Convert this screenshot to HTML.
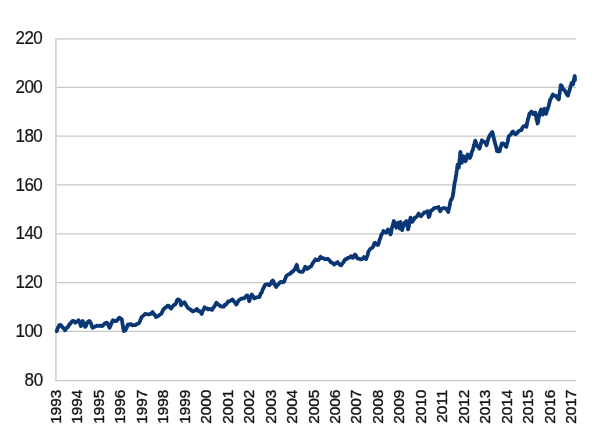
<!DOCTYPE html>
<html><head><meta charset="utf-8"><title>Chart</title>
<style>html,body{margin:0;padding:0;background:#fff}svg{display:block}</style></head>
<body>
<svg width="600" height="441" viewBox="0 0 600 441">
<rect width="600" height="441" fill="#fff"/>
<g stroke="#c8c8c8" stroke-width="1.3" fill="none">
<line x1="55.00" y1="87.30" x2="576.0" y2="87.30"/>
<line x1="55.00" y1="136.12" x2="576.0" y2="136.12"/>
<line x1="55.00" y1="184.95" x2="576.0" y2="184.95"/>
<line x1="55.00" y1="233.78" x2="576.0" y2="233.78"/>
<line x1="55.00" y1="282.60" x2="576.0" y2="282.60"/>
<line x1="55.00" y1="331.43" x2="576.0" y2="331.43"/>
</g>
<polyline points="576.0,38.9 55.9,38.9 55.9,380.7" stroke="#d6d6d6" stroke-width="1.9" stroke-linejoin="round" fill="none"/>
<line x1="55.3" y1="380.7" x2="576.0" y2="380.7" stroke="#c8c8c8" stroke-width="1.3"/>
<g font-family="'Liberation Sans', sans-serif" font-size="17" fill="#151515" stroke="#151515" stroke-width="0.2" text-anchor="end">
<text transform="translate(42.1,44.15) scale(1,1.08)" letter-spacing="-0.6">220</text>
<text transform="translate(42.1,92.96) scale(1,1.08)" letter-spacing="-0.6">200</text>
<text transform="translate(42.1,141.78) scale(1,1.08)" letter-spacing="-0.6">180</text>
<text transform="translate(42.1,190.59) scale(1,1.08)" letter-spacing="-0.6">160</text>
<text transform="translate(42.1,239.41) scale(1,1.08)" letter-spacing="-0.6">140</text>
<text transform="translate(42.1,288.22) scale(1,1.08)" letter-spacing="-0.6">120</text>
<text transform="translate(42.1,337.04) scale(1,1.08)" letter-spacing="-0.6">100</text>
<text transform="translate(43.3,385.85) scale(1,1.08)">80</text>
</g>
<g font-family="'Liberation Sans', sans-serif" font-size="15.4" fill="#151515" stroke="#151515" stroke-width="0.4" text-anchor="end">
<text transform="translate(60.90,389.6) rotate(-90)">1993</text>
<text transform="translate(82.37,389.6) rotate(-90)">1994</text>
<text transform="translate(103.84,389.6) rotate(-90)">1995</text>
<text transform="translate(125.31,389.6) rotate(-90)">1996</text>
<text transform="translate(146.78,389.6) rotate(-90)">1997</text>
<text transform="translate(168.25,389.6) rotate(-90)">1998</text>
<text transform="translate(189.72,389.6) rotate(-90)">1999</text>
<text transform="translate(211.20,389.6) rotate(-90)">2000</text>
<text transform="translate(232.67,389.6) rotate(-90)">2001</text>
<text transform="translate(254.14,389.6) rotate(-90)">2002</text>
<text transform="translate(275.61,389.6) rotate(-90)">2003</text>
<text transform="translate(297.08,389.6) rotate(-90)">2004</text>
<text transform="translate(318.55,389.6) rotate(-90)">2005</text>
<text transform="translate(340.02,389.6) rotate(-90)">2006</text>
<text transform="translate(361.49,389.6) rotate(-90)">2007</text>
<text transform="translate(382.96,389.6) rotate(-90)">2008</text>
<text transform="translate(404.43,389.6) rotate(-90)">2009</text>
<text transform="translate(425.90,389.6) rotate(-90)">2010</text>
<text transform="translate(447.38,389.6) rotate(-90)">2011</text>
<text transform="translate(468.85,389.6) rotate(-90)">2012</text>
<text transform="translate(490.32,389.6) rotate(-90)">2013</text>
<text transform="translate(511.79,389.6) rotate(-90)">2014</text>
<text transform="translate(533.26,389.6) rotate(-90)">2015</text>
<text transform="translate(554.73,389.6) rotate(-90)">2016</text>
<text transform="translate(576.20,389.6) rotate(-90)">2017</text>
</g>
<polyline points="56.7,331.1 57.3,329.4 58.0,327.6 58.6,326.9 59.2,325.2 60.5,325.0 61.7,326.1 62.8,327.6 64.0,328.7 65.1,330.3 66.2,328.2 67.4,327.5 68.5,326.1 69.5,324.1 70.6,323.5 71.7,321.6 72.7,321.0 74.0,321.2 75.2,322.7 76.3,321.8 77.4,321.5 78.5,320.2 79.1,321.1 79.8,322.7 80.4,324.8 81.0,326.1 81.6,325.1 82.1,322.8 82.7,321.0 83.3,322.3 84.0,324.7 84.6,324.7 85.2,326.9 86.1,325.8 86.9,323.3 87.8,321.9 89.4,321.0 90.1,321.8 90.8,323.1 91.4,324.8 92.1,326.9 92.8,327.8 94.2,326.6 95.6,326.5 97.0,325.6 98.7,326.0 100.3,325.7 102.0,326.1 103.2,325.3 104.5,323.7 105.8,322.9 107.0,322.7 107.7,323.5 108.3,325.5 108.9,326.4 109.6,327.8 110.3,326.0 110.9,324.9 111.6,323.2 112.2,321.4 112.9,320.2 114.6,321.0 116.3,321.0 117.4,320.2 118.5,318.4 119.6,317.7 120.7,318.7 121.8,319.4 122.1,321.1 122.4,323.3 122.7,324.8 122.9,325.8 123.2,328.5 123.5,328.9 123.8,331.1 125.5,330.3 126.1,328.7 126.8,327.7 127.4,325.4 128.0,324.4 129.5,324.6 130.9,324.1 132.4,325.3 133.9,325.2 135.3,325.1 136.7,324.2 138.1,323.6 139.1,322.9 140.0,321.0 140.6,319.4 141.1,318.6 141.7,317.0 142.8,316.1 143.9,315.1 145.0,314.0 146.7,314.2 148.4,314.5 149.8,314.2 151.2,313.5 152.6,312.0 153.4,313.2 154.3,314.7 155.2,315.1 156.0,317.0 157.4,316.5 158.7,315.6 160.1,314.5 161.2,313.8 162.2,312.0 163.2,309.8 164.3,308.6 165.4,307.4 166.6,306.9 167.7,305.6 168.8,305.9 169.9,307.5 171.0,308.6 172.1,307.1 173.1,305.9 174.1,304.8 175.2,304.4 176.1,303.1 176.9,300.5 177.8,299.4 179.1,299.8 180.3,301.0 180.6,302.2 180.8,304.4 181.1,305.2 182.2,303.6 183.4,303.1 184.5,302.2 185.3,303.6 186.2,305.3 187.0,306.5 187.9,307.9 188.7,308.6 190.1,309.3 191.5,310.5 192.9,311.6 194.3,310.5 195.6,310.4 197.0,308.9 198.2,310.9 199.3,310.9 200.5,312.2 201.7,314.0 202.4,311.9 203.1,310.2 203.9,308.9 204.6,307.2 205.7,308.1 206.9,308.3 208.0,309.4 209.4,308.8 210.7,309.5 212.1,309.8 212.9,308.2 213.8,307.1 214.6,306.2 215.5,304.4 216.3,302.7 217.7,303.9 219.1,305.1 220.5,306.1 222.2,306.6 223.9,306.6 224.9,304.7 226.0,304.6 227.1,303.2 228.1,301.5 229.5,301.4 230.9,300.5 232.3,299.4 233.3,300.5 234.2,301.8 235.2,302.6 236.2,304.5 237.1,303.5 238.1,301.3 239.1,300.1 240.0,299.5 241.4,298.7 242.9,298.3 244.3,298.4 245.3,297.2 246.3,295.7 247.3,295.4 247.8,296.1 248.3,297.8 248.8,299.2 249.3,301.2 249.9,299.3 250.6,297.1 251.2,296.7 251.8,294.5 252.6,296.0 253.5,296.6 254.3,298.4 256.0,297.6 257.7,297.2 259.4,297.0 260.1,295.3 260.7,293.4 261.4,293.0 262.0,291.7 262.7,289.5 263.4,288.2 264.1,287.0 264.9,285.1 265.6,284.5 266.9,284.2 268.1,284.8 269.4,285.3 270.2,283.8 271.1,283.4 271.9,281.3 272.8,280.6 273.6,281.5 274.5,284.5 275.3,285.4 276.1,287.0 277.2,285.1 278.4,284.3 279.5,282.8 280.9,281.8 282.3,282.3 283.7,282.0 284.3,281.2 284.9,279.6 285.6,277.9 286.2,276.1 287.6,274.9 289.0,274.2 290.4,273.6 291.4,272.1 292.5,271.9 293.6,270.5 294.6,269.4 295.3,268.3 296.1,266.1 296.8,264.8 297.2,266.2 297.6,268.9 298.0,270.2 299.5,271.5 301.0,271.9 302.5,271.9 303.2,271.1 303.9,269.8 304.5,268.4 305.2,266.8 306.2,267.4 307.2,268.9 308.6,268.0 310.0,266.8 311.4,266.0 312.2,264.0 313.1,262.6 313.9,261.6 314.8,260.3 315.6,259.3 316.9,260.0 318.1,260.1 318.9,259.7 319.8,257.8 320.6,256.8 322.0,258.2 323.4,258.2 324.8,259.1 326.2,259.2 327.6,258.7 328.7,259.7 329.8,260.7 330.9,262.4 332.0,262.7 333.2,263.4 334.3,264.6 335.4,263.3 336.5,263.1 337.6,262.1 338.7,263.8 339.9,264.8 341.0,265.4 341.8,264.2 342.6,263.3 343.5,262.3 344.3,260.7 345.4,259.1 346.6,259.1 347.7,257.9 349.4,257.7 351.0,256.2 351.9,257.5 352.7,257.9 353.4,257.1 354.2,255.6 354.9,254.5 355.9,255.4 356.8,257.7 357.8,258.7 359.2,258.6 360.5,259.4 361.9,259.1 362.9,258.8 364.0,257.0 365.1,257.9 366.1,259.1 366.6,257.4 367.1,256.6 367.7,254.7 368.2,252.3 368.7,251.2 369.8,249.5 370.9,248.4 372.0,247.8 372.8,247.2 373.5,245.8 374.2,243.5 375.0,242.8 376.4,244.4 377.9,245.0 378.4,244.3 378.9,242.4 379.4,240.5 379.9,239.3 380.4,237.8 381.1,235.5 381.9,233.7 382.6,233.4 383.4,231.0 384.9,232.1 386.3,232.7 387.1,231.1 388.0,229.4 388.8,231.7 389.7,232.6 390.5,234.4 390.9,233.3 391.3,231.5 391.7,228.9 392.1,227.3 392.6,225.7 393.0,224.0 393.4,222.8 393.8,221.0 394.4,222.3 395.1,224.2 395.7,225.5 396.3,227.7 396.9,226.6 397.4,224.1 398.0,222.7 398.4,224.1 398.9,225.7 399.3,227.7 399.7,228.5 399.9,226.7 400.1,225.8 400.3,223.5 400.5,221.8 400.8,223.5 401.2,225.2 401.5,226.1 401.9,228.4 402.2,230.2 402.6,228.2 403.0,226.5 403.5,226.2 403.9,224.3 404.7,222.7 405.6,222.1 406.4,221.0 406.7,223.0 407.1,224.4 407.4,225.8 407.8,227.7 408.1,229.4 408.5,227.8 408.8,226.5 409.2,223.8 409.5,222.7 409.9,220.6 410.2,219.0 410.6,217.6 411.2,219.4 411.7,220.4 412.3,221.8 413.1,220.5 414.0,219.4 414.8,217.6 416.1,217.4 417.3,215.9 418.0,214.7 418.6,213.6 419.8,215.1 420.9,216.3 422.0,215.0 423.2,213.7 424.3,212.4 426.0,212.1 427.6,211.2 427.9,212.6 428.2,214.2 428.5,215.6 428.8,217.1 429.4,216.1 429.9,214.0 430.4,212.6 431.0,210.4 432.4,210.2 433.8,208.4 435.2,207.9 436.9,207.5 438.5,207.0 439.1,209.1 439.6,210.3 440.2,211.2 441.4,209.3 442.7,208.4 444.4,208.0 446.1,208.7 446.8,209.7 447.6,210.3 448.3,212.1 448.6,210.0 449.0,208.1 449.3,207.3 449.6,205.8 450.0,204.3 450.3,202.0 450.9,200.0 451.6,199.4 452.2,197.8 452.8,196.1 453.0,193.8 453.3,193.1 453.5,191.4 453.8,188.5 454.0,187.9 454.3,185.2 454.5,183.6 454.8,181.9 455.1,181.0 455.5,179.1 455.8,176.4 456.1,175.2 456.4,173.3 456.6,171.7 456.9,169.7 457.1,167.7 457.4,166.1 457.6,164.6 458.2,166.4 458.8,167.5 459.0,165.0 459.2,164.1 459.3,162.2 459.5,159.8 459.7,158.5 459.9,157.2 460.0,155.3 460.2,152.9 460.4,151.8 460.6,154.4 460.9,155.9 461.1,158.1 461.3,158.6 461.6,160.7 461.8,162.9 462.2,160.5 462.6,160.0 463.1,157.5 463.5,156.2 464.2,157.3 464.8,159.4 465.5,161.2 466.1,160.1 466.6,158.3 467.1,155.8 467.7,154.5 468.4,155.1 469.2,157.4 469.9,157.9 470.5,156.5 471.0,155.2 471.6,152.7 472.1,151.2 472.7,150.3 473.1,149.0 473.5,147.0 473.9,144.8 474.4,144.5 474.8,142.4 475.2,140.6 475.7,142.4 476.2,142.7 476.7,145.3 477.2,146.1 478.3,146.7 479.4,148.7 479.9,147.6 480.4,145.3 480.9,143.4 481.4,142.1 481.9,140.3 483.2,141.7 484.5,141.9 485.2,142.7 485.9,143.6 486.6,145.3 487.0,143.8 487.4,141.9 487.9,140.2 488.3,138.8 488.7,137.8 489.6,135.7 490.5,134.4 491.4,133.1 492.3,131.9 492.7,133.4 493.2,136.0 493.6,137.1 494.1,139.3 494.5,141.1 494.9,142.3 495.3,144.2 495.8,145.4 496.2,147.5 496.6,148.8 497.0,151.2 498.3,151.5 499.6,151.2 500.0,149.7 500.4,147.6 500.9,146.4 501.3,145.5 501.7,143.3 503.1,143.3 504.6,144.5 505.5,146.2 506.3,147.0 506.7,145.1 507.1,143.4 507.6,142.1 508.0,139.6 508.4,137.9 508.8,136.1 509.9,135.2 510.9,134.5 511.9,132.4 513.0,131.5 513.8,133.0 514.7,133.7 515.5,134.4 516.6,133.5 517.8,132.0 518.9,131.0 520.1,130.4 521.4,130.2 522.2,128.1 523.1,126.8 523.9,126.0 525.1,125.8 526.4,126.8 526.7,125.6 527.0,123.3 527.4,121.6 527.7,120.5 528.2,118.1 528.6,117.5 529.0,115.8 529.5,113.5 530.5,112.8 531.4,111.5 532.2,112.4 533.1,114.0 534.2,112.9 535.3,112.6 535.6,114.0 535.9,115.9 536.2,117.1 536.5,119.3 536.9,120.6 537.2,121.7 537.6,123.5 537.9,122.5 538.3,120.9 538.6,118.6 538.9,116.5 539.3,115.9 539.6,113.5 540.1,111.9 540.6,110.7 541.1,109.6 541.7,110.5 542.2,112.8 542.8,114.6 543.2,113.1 543.6,111.7 544.1,109.7 544.5,108.7 545.0,110.4 545.6,111.4 546.1,113.8 546.6,111.9 547.1,110.1 547.7,109.1 548.2,107.0 548.7,106.2 549.1,103.8 549.5,102.6 549.9,100.8 550.3,99.5 551.2,98.0 552.0,96.2 552.9,94.5 554.5,95.7 556.2,96.1 557.0,97.5 557.9,98.7 558.7,99.5 559.0,98.3 559.2,95.8 559.5,93.9 559.7,93.1 560.0,90.0 560.2,89.1 560.5,87.2 560.7,85.2 561.7,85.8 562.7,88.3 563.6,89.6 564.6,90.3 565.5,91.8 566.3,93.3 567.1,94.7 568.0,95.6 568.4,93.5 568.8,92.5 569.2,90.9 569.7,89.8 570.1,88.1 570.5,86.1 571.1,84.9 571.8,82.7 572.4,83.7 573.0,84.4 573.3,83.3 573.7,81.3 574.0,79.6 574.4,77.3 574.7,76.0 574.8,76.7 574.9,78.2 575.0,80.2" fill="none" stroke="#0a3773" stroke-width="3.8" stroke-linejoin="round" stroke-linecap="round"/>
</svg>
</body></html>
